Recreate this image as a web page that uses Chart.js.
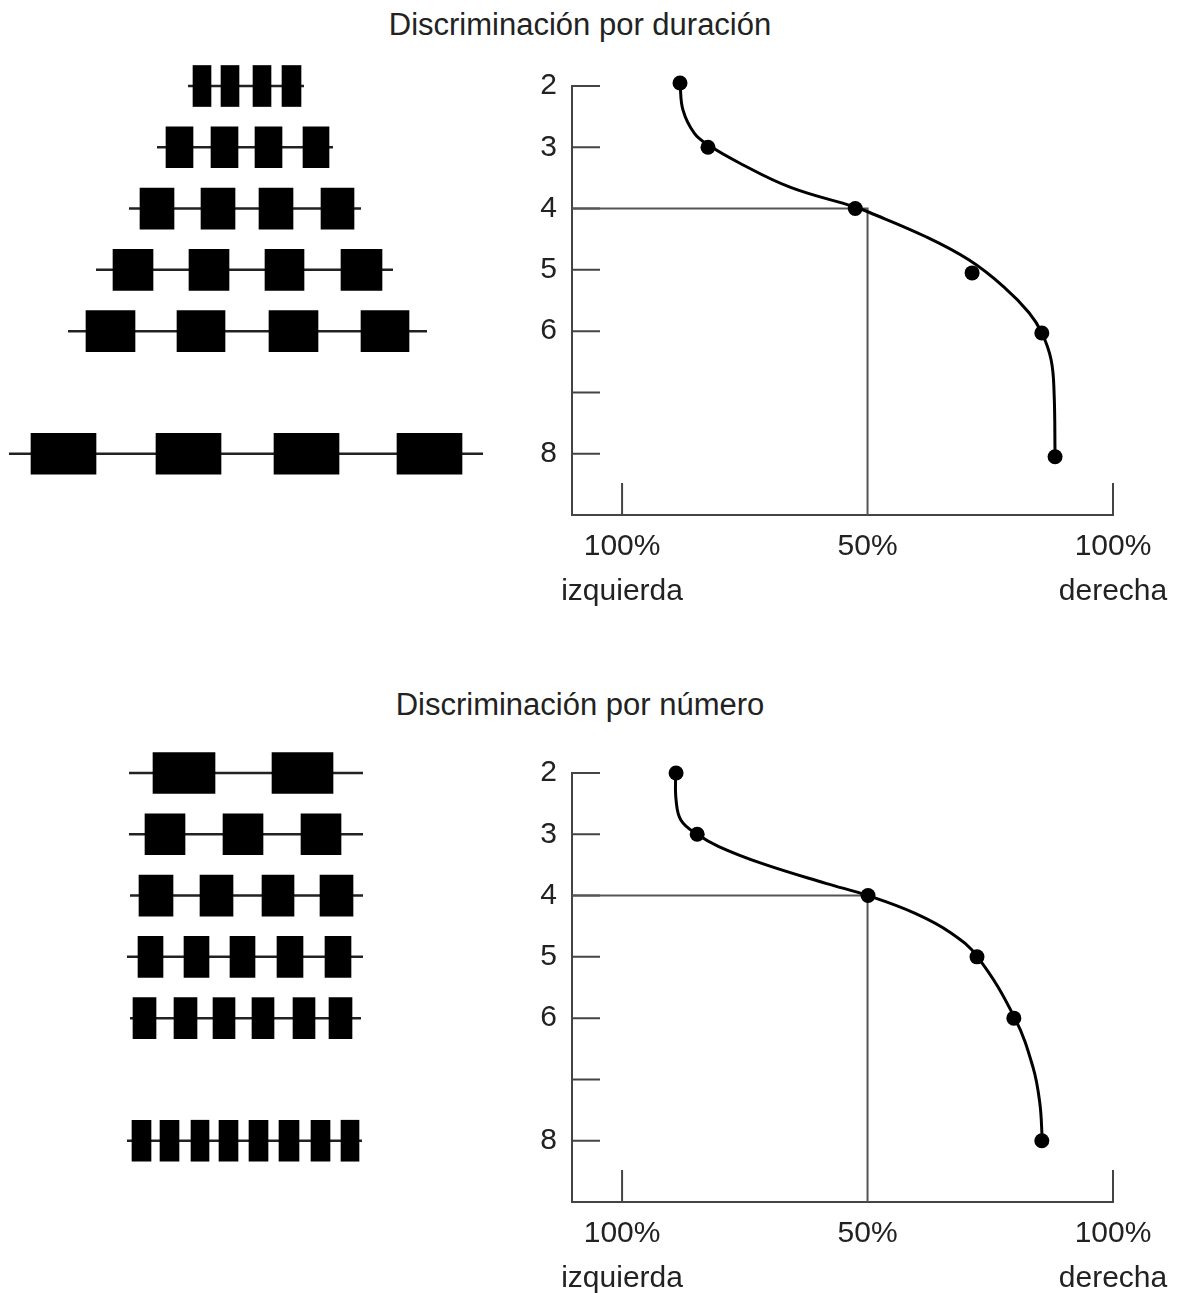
<!DOCTYPE html>
<html>
<head>
<meta charset="utf-8">
<script src="https://cdn.jsdelivr.net/npm/chart.js@4"></script>
<style>
  html, body { margin: 0; background: #fff; overflow: hidden; }
  #page { position: relative; width: 1183px; height: 1293px; overflow: hidden; }
  .box { position: absolute; }
  .title { position: absolute; left: 0; width: 1160px; text-align: center;
    font: 31px "Liberation Sans", Arial, sans-serif; color: #222; line-height: 34px; }
</style>
</head>
<body>
<div id="page">
  <div class="title" style="top:8px">Discriminación por duración</div>
  <div class="box" style="left:0;top:0;width:500px;height:615px"><canvas id="durStim"></canvas></div>
  <div class="box" style="left:500px;top:0;width:683px;height:615px"><canvas id="durPlot"></canvas></div>

  <div class="title" style="top:688px">Discriminación por número</div>
  <div class="box" style="left:0;top:687px;width:500px;height:615px"><canvas id="numStim"></canvas></div>
  <div class="box" style="left:500px;top:687px;width:683px;height:615px"><canvas id="numPlot"></canvas></div>
</div>
<script>
// rows (stimulus set) shown on the vertical axis
const rows = [2, 3, 4, 5, 6, 8];
const yLabels = [2, 3, 4, 5, 6, '', 8];

// stimuli, duration task: tone bars [start, end] and the line behind them
const durBars = [
  [[193, 211], [221, 239], [253, 271], [282, 301]],
  [[166, 193], [211, 238], [255, 282], [303, 329]],
  [[140, 174], [201, 235], [259, 293], [321, 354]],
  [[113, 153], [189, 229], [265, 304], [341, 382]],
  [[86, 135], [177, 225], [269, 318], [361, 409]],
  [[31, 96], [156, 221], [274, 339], [397, 462]]
];
const durLines = [[188, 304], [157, 333], [129, 361], [96, 393], [68, 427], [9, 483]];

// stimuli, number task
const numBars = [
  [[153, 215], [272, 333]],
  [[145, 185], [223, 263], [301, 341]],
  [[139, 173], [200, 233], [262, 294], [320, 353]],
  [[138, 163], [184, 209], [230, 255], [277, 303], [325, 351]],
  [[133, 156], [174, 197], [213, 235], [252, 274], [293, 315], [329, 352]],
  [[132, 151], [160, 179], [191, 209], [219, 238], [249, 268], [279, 299], [311, 330], [341, 359]]
];
const numLines = [[129, 363], [129, 363], [130, 363], [127, 363], [130, 361], [127, 362]];

// % "derecha" responses
const durX = [11.8, 17.5, 47.5, 71.3, 85.5, 88.2];
const durY = [1.95, 3, 4, 5.05, 6.03, 8.05];
const durCurveX = [11.8, 12.4, 14.7, 17.5, 24.0, 34.2, 47.3, 50.3, 61.9, 70.7, 77.8, 82.9, 85.5, 87.4, 88.0, 88.2];
const durCurveY = [1.95, 2.39, 2.77, 2.96, 3.26, 3.65, 3.97, 4.06, 4.46, 4.84, 5.28, 5.70, 6.03, 6.47, 7.01, 8.05];

const numX = [11.0, 15.3, 50.1, 72.3, 79.8, 85.5];
const numY = [2, 3, 4, 5, 6, 8];
const numCurveX = [10.9, 11.0, 12.0, 15.3, 19.7, 28.3, 41.5, 50.1, 59.7, 67.0, 72.4, 80.0, 83.7, 85.1, 85.6];
const numCurveY = [2.0, 2.44, 2.77, 3.0, 3.2, 3.47, 3.8, 4.0, 4.29, 4.61, 5.0, 6.0, 6.8, 7.39, 8.0];

const xTicks = [0, 50, 100];
const xLabels = [['100%', 'izquierda'], '50%', ['100%', 'derecha']];
const threshold = { x: 50, y: 4 };

const axisColor = '#444';
Chart.defaults.font.family = '"Liberation Sans", Arial, sans-serif';
Chart.defaults.color = '#222';

const xMin = -10.2, yMin = 2, yMax = 9;

// tick marks drawn inwards, from the scales
const innerTicks = {
  id: 'innerTicks',
  beforeDatasetsDraw(chart) {
    const { ctx, chartArea, scales } = chart;
    ctx.save();
    ctx.strokeStyle = axisColor;
    ctx.lineWidth = 2;
    ctx.beginPath();
    scales.y.ticks.forEach(t => {
      if (t.value >= yMax) return;
      const py = scales.y.getPixelForValue(t.value);
      ctx.moveTo(chartArea.left, py);
      ctx.lineTo(chartArea.left + 28, py);
    });
    [0, 100].forEach(v => {
      const px = scales.x.getPixelForValue(v);
      ctx.moveTo(px, chartArea.bottom);
      ctx.lineTo(px, chartArea.bottom - 32);
    });
    ctx.stroke();
    ctx.restore();
  }
};

function stimChart(id, bars, lines) {
  const barData = [];
  bars.forEach((row, i) => row.forEach(b => barData.push({ x: b, y: rows[i] })));
  const datasets = [{
    type: 'bar',
    data: barData,
    backgroundColor: '#000',
    borderWidth: 0,
    barThickness: 41,
    clip: false
  }];
  lines.forEach((l, i) => datasets.push({
    type: 'line',
    data: [{ x: l[0], y: rows[i] }, { x: l[1], y: rows[i] }],
    borderColor: '#222',
    borderWidth: 2.5,
    pointRadius: 0,
    clip: false
  }));
  new Chart(document.getElementById(id), {
    type: 'bar',
    data: { datasets },
    options: {
      indexAxis: 'y',
      animation: false,
      responsive: true,
      maintainAspectRatio: false,
      layout: { padding: { top: 86, bottom: 100, left: 0, right: 0 } },
      plugins: { legend: { display: false }, tooltip: { enabled: false } },
      scales: {
        x: { type: 'linear', min: 0, max: 500, display: false },
        y: { type: 'linear', min: yMin, max: yMax, reverse: true, offset: false, display: false }
      }
    }
  });
}

function plotChart(id, px, py, cx, cy) {
  new Chart(document.getElementById(id), {
    type: 'scatter',
    data: {
      datasets: [
        {
          data: px.map((v, i) => ({ x: v, y: py[i] })),
          pointRadius: 7.5,
          pointBackgroundColor: '#000',
          pointBorderWidth: 0,
          showLine: false,
          clip: false
        },
        {
          data: cx.map((v, i) => ({ x: v, y: cy[i] })),
          showLine: true,
          tension: 0.4,
          borderColor: '#000',
          borderWidth: 3,
          pointRadius: 0,
          clip: false
        },
        {
          data: [{ x: xMin, y: threshold.y }, { x: threshold.x, y: threshold.y }, { x: threshold.x, y: yMax }],
          showLine: true,
          tension: 0,
          borderColor: '#555',
          borderWidth: 2,
          pointRadius: 0
        }
      ]
    },
    options: {
      animation: false,
      responsive: true,
      maintainAspectRatio: false,
      layout: { padding: { top: 86, right: 70, left: 0, bottom: 0 } },
      plugins: { legend: { display: false }, tooltip: { enabled: false } },
      scales: {
        x: {
          type: 'linear', min: xMin, max: 100,
          afterBuildTicks: s => { s.ticks = xTicks.map(v => ({ value: v })); },
          afterFit: s => { s.height = 100; },
          grid: { display: false, drawTicks: false },
          border: { display: true, color: axisColor, width: 2 },
          ticks: {
            padding: 9,
            font: { size: 30, lineHeight: 1.5 },
            maxRotation: 0,
            callback: v => xLabels[xTicks.indexOf(v)]
          }
        },
        y: {
          type: 'linear', min: yMin, max: yMax, reverse: true,
          afterFit: s => { s.width = 72; },
          grid: { display: false, drawTicks: false },
          border: { display: true, color: axisColor, width: 2 },
          ticks: {
            stepSize: 1,
            padding: 15,
            font: { size: 30 },
            callback: v => (v < yMax ? yLabels[v - yMin] : '')
          }
        }
      }
    },
    plugins: [innerTicks]
  });
}

stimChart('durStim', durBars, durLines);
plotChart('durPlot', durX, durY, durCurveX, durCurveY);
stimChart('numStim', numBars, numLines);
plotChart('numPlot', numX, numY, numCurveX, numCurveY);
</script>
</body>
</html>
